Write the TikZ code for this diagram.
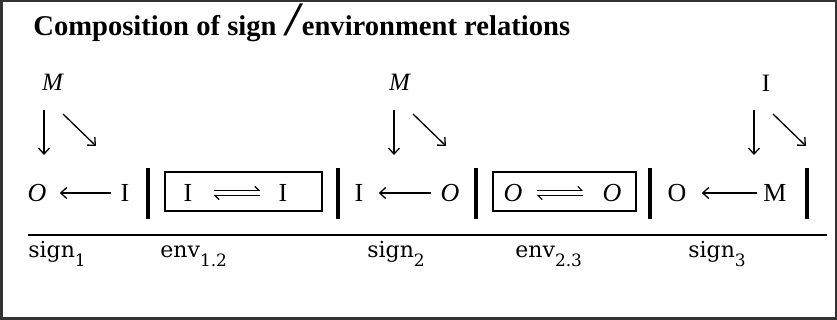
\documentclass[tikz,border=0pt]{standalone}
\usepackage{fontspec}
\setmainfont{Liberation Serif}
\newfontfamily\labfont{DejaVu Serif}
\usetikzlibrary{positioning,arrows.meta,calc}

\newcommand{\lsub}[1]{\raisebox{-4.5pt}{\fontsize{8.5}{8.5}\selectfont #1}}

\begin{document}
\begin{tikzpicture}[
  x=0.5pt,y=-0.5pt,
  sym/.style={inner sep=0pt,font=\fontsize{13}{13}\selectfont},
  top/.style={inner sep=0pt,font=\fontsize{12.5}{12.5}\selectfont},
  lab/.style={inner sep=0pt,anchor=base west,font=\labfont\fontsize{11}{11}\selectfont},
  envbox/.style={draw,line width=0.75pt,minimum height=19.5pt,inner sep=0pt},
  bar/.style={line width=2pt},
  arr/.style={-{Straight Barb[length=3pt,width=5.5pt]},line width=0.65pt},
  harp/.style={-{Straight Barb[harpoon,length=2pt,width=4pt]},line width=0.6pt}
]
\useasboundingbox (0,0) rectangle (837,320);
\draw[line width=1.25pt,black!80] (1.25,1.25) rectangle (835.75,318.75);
% ---- Title ----
\node[anchor=base west,inner sep=0pt,font=\bfseries\fontsize{14.3}{14.3}\selectfont]
  (title) at (33,36)
  {Composition of sign\hspace{5pt}{\fontsize{24}{24}\selectfont\itshape/}\hspace{1pt}environment relations};
% ---- Upper signs ----
\node[top] (ma) at (53,82) {\textit{M}};
\node[top] (mb) at (400,82) {\textit{M}};
\node[top] (ic) at (766,83) {I};
\foreach \n/\fx in {a/44,b/394,c/754}{
  \coordinate (fork\n) at (\fx,110);
  \draw[arr] (fork\n) -- ++(0,45);
  \draw[arr] ($(fork\n)+(19,4)$) -- ++(33,32);
}
% ---- Row ----
\node[sym] (o1) at (37,193) {\textit{O}};
\node[sym] (i1) at (125,193) {I};
\node[envbox,minimum width=78.5pt] (env12) at (243.5,191.5) {};
\node[sym] (i2) at (188,193) {I};
\node[sym] (i3) at (283,193) {I};
\node[sym] (i4) at (359,193) {I};
\node[sym] (o2) at (450,193) {\textit{O}};
\node[envbox,minimum width=71.5pt] (env23) at (564.5,191.5) {};
\node[sym] (o3) at (513,193) {\textit{O}};
\node[sym] (o4) at (612,193) {\textit{O}};
\node[sym] (o5) at (677,193) {O};
\node[sym] (m1) at (775,193) {M};
\foreach \bx in {148,338,476,650,807}
  \draw[bar] (\bx,168) -- (\bx,219);
% ---- Edges ----
\draw[arr,shorten <=4.5pt,shorten >=6.5pt] (i1.west) -- (o1.east);
\draw[arr,shorten <=4.5pt,shorten >=7.5pt] (o2.west) -- (i4.east);
\draw[arr,shorten <=3pt,shorten >=7.5pt]   (m1.west) -- (o5.east);
\draw[harp,shorten <=10.5pt,shorten >=9pt]
  ([yshift=1.3pt]i2.east) -- ([yshift=1.3pt]i3.west);
\draw[harp,shorten <=9pt,shorten >=10.5pt]
  ([yshift=-1.3pt]i3.west) -- ([yshift=-1.3pt]i2.east);
\draw[harp,shorten <=7pt,shorten >=9.5pt]
  ([yshift=1.3pt]o3.east) -- ([yshift=1.3pt]o4.west);
\draw[harp,shorten <=9.5pt,shorten >=7pt]
  ([yshift=-1.3pt]o4.west) -- ([yshift=-1.3pt]o3.east);
% ---- Labels ----
\draw[line width=1pt] (28,235) -- (827,235);
\node[lab] (s1) at (28,258) {sign\lsub{1}};
\node[lab] (e12) at (160,258) {env\lsub{1.2}};
\node[lab] (s2) at (367,258) {sign\lsub{2}};
\node[lab] (e23) at (515,258) {env\lsub{2.3}};
\node[lab] (s3) at (688,258) {sign\lsub{3}};
\end{tikzpicture}
\end{document}
